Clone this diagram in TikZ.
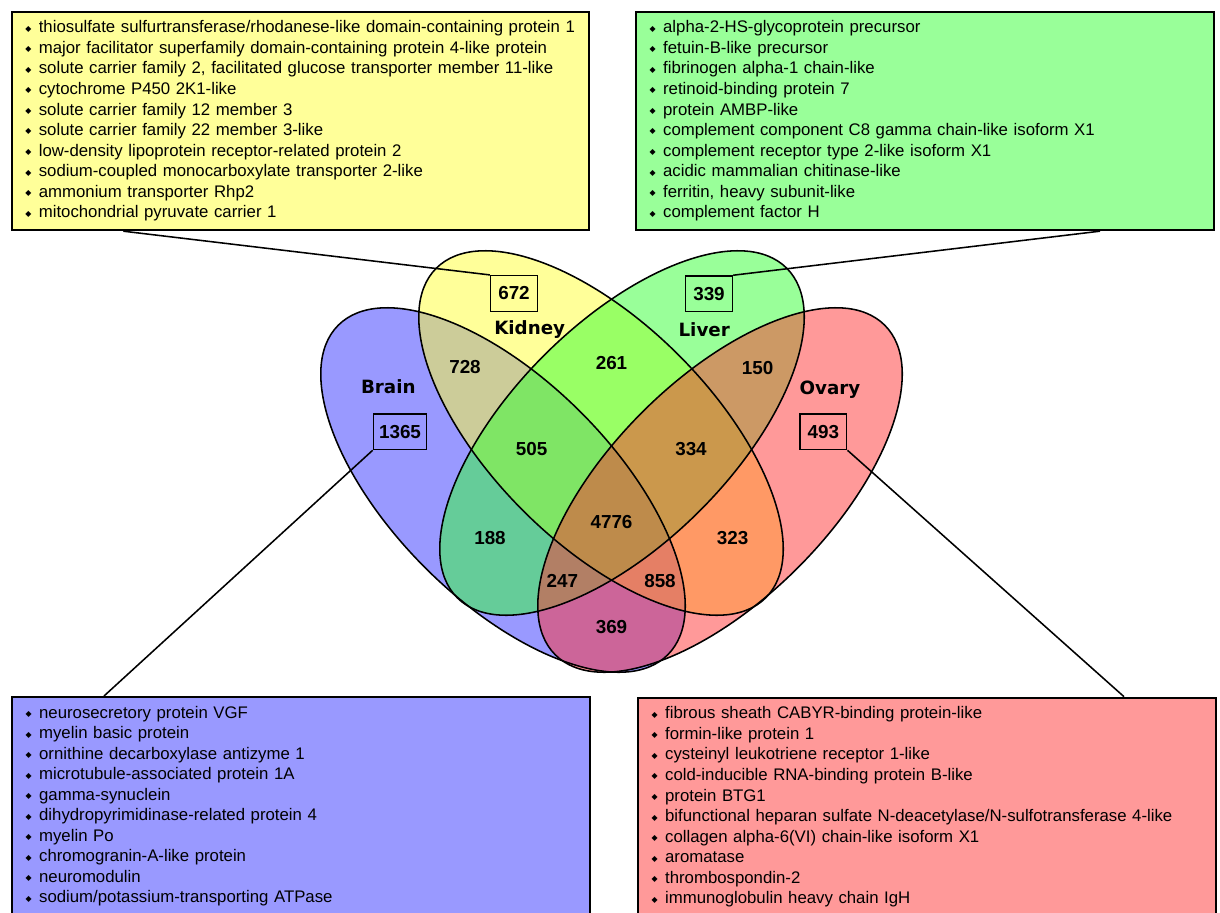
\documentclass[tikz,border=0pt]{standalone}
\usepackage{fontspec}
\setmainfont{Liberation Sans}
\newfontfamily\symfont{DejaVu Sans}
\newfontfamily\namefont{DejaVu Sans}
\definecolor{hirn}{RGB}{51,51,255}
\definecolor{niere}{RGB}{255,255,51}
\definecolor{leber}{RGB}{51,255,51}
\definecolor{ovar}{RGB}{255,51,51}
\definecolor{hirnhell}{RGB}{153,153,255}
\definecolor{nierehell}{RGB}{255,255,153}
\definecolor{leberhell}{RGB}{153,255,153}
\definecolor{ovarhell}{RGB}{255,153,153}
\newcommand\bul{\hspace*{0.345cm}\makebox[0.335cm][l]{\raisebox{1.1pt}{\symfont\fontsize{5.6}{5.6}\selectfont ◆}}}
\begin{document}
\begin{tikzpicture}[x=0.025cm,y=-0.025cm,
	liste/.style={draw,line width=1.3pt,anchor=north west,text width=14.44cm,align=left,inner xsep=0pt,inner ysep=0pt,minimum height=5.465cm,font=\fontsize{11.93}{14.6}\selectfont},
	zahl/.style={font=\fontsize{13.4}{14}\selectfont\bfseries},
	zahlbox/.style={zahl,draw,line width=1.1pt,minimum width=1.17cm,minimum height=0.89cm,inner xsep=0.14cm},
	gewebe/.style={font=\namefont\fontsize{13}{14}\selectfont\bfseries},
	umriss/.style={line width=1.1pt}]
	\useasboundingbox (0,0) rectangle (1220,912);
	\fill[hirn,fill opacity=0.5,rotate around={-45:(503,490)}] (503,490) ellipse (233 and 110);%Brain
	\fill[niere,fill opacity=0.5,rotate around={-45:(601,433)}] (601,433) ellipse (233 and 110);%Kidney
	\fill[leber,fill opacity=0.5,rotate around={45:(622,433)}] (622,433) ellipse (233 and 110);%Liver
	\fill[ovar,fill opacity=0.5,rotate around={45:(720,490)}] (720,490) ellipse (233 and 110);%Ovary
	\draw[umriss,rotate around={-45:(503,490)}] (503,490) ellipse (233 and 110);%Umriss Brain
	\draw[umriss,rotate around={-45:(601,433)}] (601,433) ellipse (233 and 110);%Umriss Kidney
	\draw[umriss,rotate around={45:(622,433)}] (622,433) ellipse (233 and 110);%Umriss Liver
	\draw[umriss,rotate around={45:(720,490)}] (720,490) ellipse (233 and 110);%Umriss Ovary

	\node[gewebe] (brain) at (388.3,386.7) {Brain};
	\node[gewebe] (kidney) at (529.7,330) {Kidney};
	\node[gewebe] (liver) at (704.2,330) {Liver};
	\node[gewebe] (ovary) at (830,389.3) {Ovary};

	\node[zahlbox] (n672) at (514,293.5) {672};%nur Kidney
	\node[zahlbox] (n339) at (709,293.8) {339};%nur Liver
	\node[zahlbox] (n1365) at (400,431.7) {1365};%nur Brain
	\node[zahlbox] (n493) at (823.3,431.7) {493};%nur Ovary
	\node[zahl] (n728) at (465,367.3) {728};
	\node[zahl] (n261) at (611.5,363.3) {261};
	\node[zahl] (n150) at (757.7,367.7) {150};
	\node[zahl] (n505) at (531.7,449) {505};
	\node[zahl] (n334) at (691,449) {334};
	\node[zahl] (n188) at (490,538.3) {188};
	\node[zahl] (n4776) at (611.5,522.3) {4776};%alle vier
	\node[zahl] (n323) at (732.7,538.3) {323};
	\node[zahl] (n247) at (562.3,580.7) {247};
	\node[zahl] (n858) at (660,580.7) {858};
	\node[zahl] (n369) at (611.5,627.3) {369};

	\node[liste,fill=nierehell] (kidneybox) at (10.7,10.7) {\bul thiosulfate sulfurtransferase/rhodanese-like domain-containing protein 1\\
		\bul major facilitator superfamily domain-containing protein 4-like protein\\
		\bul solute carrier family 2, facilitated glucose transporter member 11-like\\
		\bul cytochrome P450 2K1-like\\
		\bul solute carrier family 12 member 3\\
		\bul solute carrier family 22 member 3-like\\
		\bul low-density lipoprotein receptor-related protein 2\\
		\bul sodium-coupled monocarboxylate transporter 2-like\\
		\bul ammonium transporter Rhp2\\
		\bul mitochondrial pyruvate carrier 1};
	\node[liste,fill=leberhell] (liverbox) at (635,10.7) {\bul alpha-2-HS-glycoprotein precursor\\
		\bul fetuin-B-like precursor\\
		\bul fibrinogen alpha-1 chain-like\\
		\bul retinoid-binding protein 7\\
		\bul protein AMBP-like\\
		\bul complement component C8 gamma chain-like isoform X1\\
		\bul complement receptor type 2-like isoform X1\\
		\bul acidic mammalian chitinase-like\\
		\bul ferritin, heavy subunit-like\\
		\bul complement factor H};
	\node[liste,fill=hirnhell] (brainbox) at (11,696) {\bul neurosecretory protein VGF\\
		\bul myelin basic protein\\
		\bul ornithine decarboxylase antizyme 1\\
		\bul microtubule-associated protein 1A\\
		\bul gamma-synuclein\\
		\bul dihydropyrimidinase-related protein 4\\
		\bul myelin Po\\
		\bul chromogranin-A-like protein\\
		\bul neuromodulin\\
		\bul sodium/potassium-transporting ATPase};
	\node[liste,fill=ovarhell] (ovarybox) at (637,696.7) {\bul fibrous sheath CABYR-binding protein-like\\
		\bul formin-like protein 1\\
		\bul cysteinyl leukotriene receptor 1-like\\
		\bul cold-inducible RNA-binding protein B-like\\
		\bul protein BTG1\\
		\bul bifunctional heparan sulfate N-deacetylase/N-sulfotransferase 4-like\\
		\bul collagen alpha-6(VI) chain-like isoform X1\\
		\bul aromatase\\
		\bul thrombospondin-2\\
		\bul immunoglobulin heavy chain IgH};

	\draw[umriss] (123.3,0 |- kidneybox.south) -- (n672.north west);%Linie Kidney
	\draw[umriss] (1100,0 |- liverbox.south) -- (n339.north east);%Linie Liver
	\draw[umriss] (n1365.south west) -- (104,0 |- brainbox.north);%Linie Brain
	\draw[umriss] (n493.south east) -- (1124,0 |- ovarybox.north);%Linie Ovary
\end{tikzpicture}
\end{document}
